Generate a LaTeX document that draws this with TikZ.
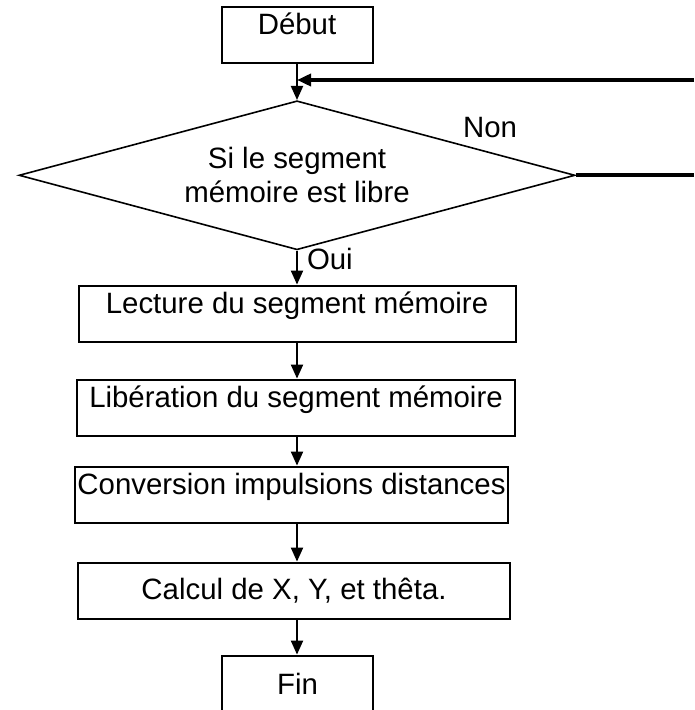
\documentclass[tikz,border=0pt]{standalone}
\usepackage{fontspec}
\setmainfont{Liberation Sans}
\usetikzlibrary{arrows.meta,positioning,shapes.geometric}
\tikzset{
  >={Triangle[length=7pt,width=6pt]},
  every node/.style={font=\fontsize{14.7}{17}\selectfont},
  blk/.style={draw, line width=1pt, minimum height=28pt, inner sep=1pt, align=center},
  blkup/.style={blk, text height=11pt, text depth=11pt},
  test/.style={draw, diamond, aspect=3.73, line width=0.8pt, minimum width=278pt, minimum height=74.5pt, inner sep=0pt, align=center},
  lab/.style={inner sep=1.5pt},
  flow/.style={->, line width=1pt},
  back/.style={line width=2pt},
}

\begin{document}
\begin{tikzpicture}
\useasboundingbox (0,0) rectangle (347pt,-355pt);

% main column
\node[blkup, minimum width=75.5pt] (debut) at (148.5pt,-17.5pt) {Début};
\node[test, below=18pt of debut] (cond) {Si le segment\\mémoire est libre};
\node[blkup, minimum width=218.5pt, below=17pt of cond] (lect) {Lecture du segment mémoire};
\node[blkup, minimum width=219pt, below=18pt of lect, xshift=-0.5pt] (lib) {Libération du segment mémoire};
\node[blkup, minimum width=216.5pt, below=14.5pt of lib, xshift=-2.25pt] (conv) {Conversion impulsions distances};
\node[blk, minimum width=216pt, below=19pt of conv, xshift=1.25pt] (calc) {Calcul de X, Y, et thêta.};
\node[blk, minimum width=75.5pt, below=17.5pt of calc, xshift=1.75pt] (fin) {Fin};

\draw[flow] (debut) -- (cond);
\draw[flow] (cond) -- node[pos=0.25, right=3pt, lab] {Oui} (lect);
\draw[flow] (lect.south -| debut.south) -- (lib.north -| debut.south);
\draw[flow] (lib.south -| debut.south) -- (conv.north -| debut.south);
\draw[flow] (conv.south -| debut.south) -- (calc.north -| debut.south);
\draw[flow] (calc.south -| debut.south) -- (fin.north -| debut.south);

% "Non" branch, back to the top
\node[lab] (non) at (245pt,-64pt) {Non};
\coordinate (ret) at (347pt,-40pt);
\coordinate (out) at (347pt,-87.5pt);
\draw[back, ->] (ret) -- (ret -| debut.south);
\draw[back] (cond.east) -- (cond.east -| out);

\end{tikzpicture}
\end{document}
